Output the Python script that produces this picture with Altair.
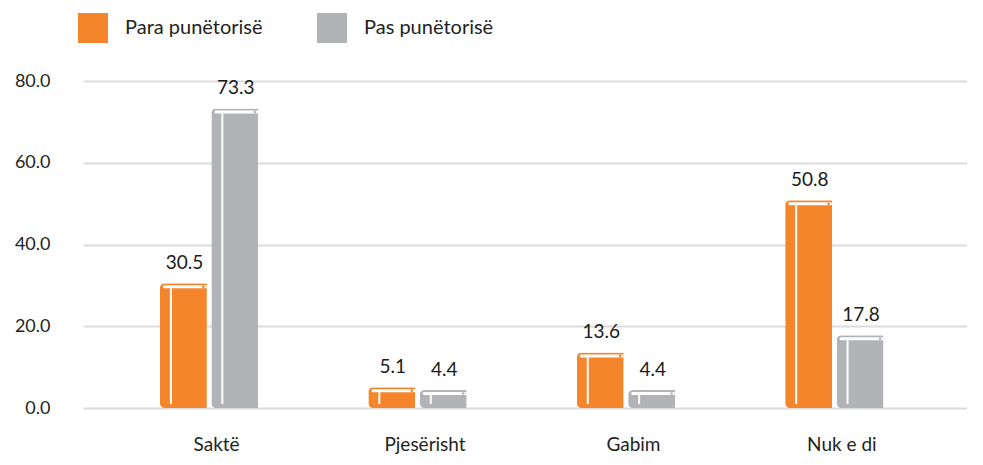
import altair as alt
import pandas as pd

categories = ["Saktë", "Pjesërisht", "Gabim", "Nuk e di"]
series = ["Para punëtorisë", "Pas punëtorisë"]
para_values = [30.5, 5.1, 13.6, 50.8]
pas_values = [73.3, 4.4, 4.4, 17.8]
y_ticks = [0, 20, 40, 60, 80]

ORANGE = "#F5852A"
GRAY = "#B1B3B6"

rows = []
for ci, cat in enumerate(categories):
    for si, vals in enumerate([para_values, pas_values]):
        rows.append({"cat": cat, "ci": ci, "series": series[si], "si": si, "value": vals[ci]})
df = pd.DataFrame(rows)

label_expr = "[" + ",".join("'" + c + "'" for c in categories) + "][datum.value]"

x_enc = alt.X(
    "xpos:Q",
    scale=alt.Scale(domain=[-0.5811, 3.6124], nice=False, zero=False),
    axis=alt.Axis(values=list(range(len(categories))), labelExpr=label_expr, grid=False,
                  ticks=False, domain=False, title=None, labelOffset=7, labelPadding=27,
                  labelFontSize=19, labelColor="#231f20"),
)
y_enc = alt.Y(
    "value:Q",
    scale=alt.Scale(domain=[0, 80], nice=False),
    axis=alt.Axis(values=y_ticks, format=".1f", title=None, domain=False, ticks=False,
                  labelPadding=33, gridColor="#dcdcdc", gridWidth=2, labelFontSize=18,
                  labelColor="#231f20"),
)
color_scale = alt.Scale(domain=series, range=[ORANGE, GRAY])

base = alt.Chart(df).transform_calculate(
    xpos="datum.ci + (datum.si - 0.5) * 0.2467"
).encode(x=x_enc, y=y_enc)

bars = base.mark_bar(width=47, cornerRadiusTopLeft=5, cornerRadiusBottomLeft=5, y2Offset=-4).encode(
    color=alt.Color(
        "series:N", scale=color_scale,
        legend=alt.Legend(orient="none", legendX=-5, legendY=-68, direction="horizontal",
                          title=None, symbolType="square", symbolSize=900, symbolStrokeWidth=0,
                          labelFontSize=20, labelOffset=17, columnPadding=54, padding=0,
                          labelColor="#231f20", symbolOpacity=1),
    )
)

pages = base.mark_tick(orient="horizontal", thickness=3, size=44, color="white",
                       cornerRadius=1.5, yOffset=3.5, xOffset=1.5, opacity=1)

curl = base.mark_circle(size=7, xOffset=20, yOffset=3.5, opacity=1).encode(
    color=alt.Color("series:N", scale=color_scale, legend=None)
)

spine = base.mark_rule(xOffset=-12.5, yOffset=5, y2Offset=-4, strokeWidth=2, color="white").encode(
    y2=alt.datum(0)
)

labels = base.mark_text(baseline="bottom", dy=-10, dx=1, fontSize=19, color="#1a1a1a").encode(
    text=alt.Text("value:Q", format=".1f")
)

chart = alt.layer(bars, pages, curl, spine, labels).properties(
    width=884, height=327,
    padding={"left": 75, "top": 73, "right": 0, "bottom": 48},
    autosize=alt.AutoSizeParams(type="none"),
).configure(font="Lato").configure_view(stroke=None)

chart.save("out.html", embed_options={"renderer": "svg", "actions": False})
